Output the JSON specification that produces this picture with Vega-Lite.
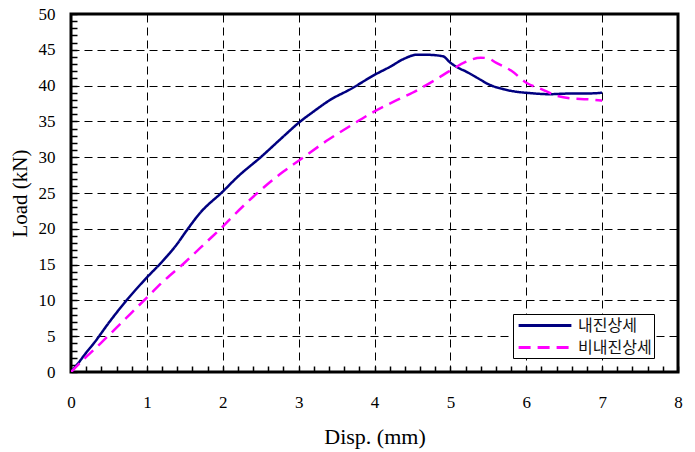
{
  "$schema": "https://vega.github.io/schema/vega-lite/v6.json",
  "width": 607,
  "height": 358,
  "autosize": {"type": "none"},
  "padding": {"left": 71, "top": 14, "right": 17, "bottom": 80},
  "background": "white",
  "config": {
    "view": {"stroke": "black", "strokeWidth": 3},
    "font": "Liberation Serif"
  },
  "data": {
    "values": [
      {"series": "내진상세", "disp": 0, "load": 0},
      {"series": "내진상세", "disp": 0.1, "load": 1.3},
      {"series": "내진상세", "disp": 0.2, "load": 2.7},
      {"series": "내진상세", "disp": 0.3, "load": 4.0},
      {"series": "내진상세", "disp": 0.5, "load": 6.9},
      {"series": "내진상세", "disp": 0.7, "load": 9.6},
      {"series": "내진상세", "disp": 1.0, "load": 13.2},
      {"series": "내진상세", "disp": 1.2, "load": 15.4},
      {"series": "내진상세", "disp": 1.4, "load": 17.9},
      {"series": "내진상세", "disp": 1.5, "load": 19.4},
      {"series": "내진상세", "disp": 1.7, "load": 22.2},
      {"series": "내진상세", "disp": 2.0, "load": 25.2},
      {"series": "내진상세", "disp": 2.2, "load": 27.3},
      {"series": "내진상세", "disp": 2.5, "load": 30.0},
      {"series": "내진상세", "disp": 2.8, "load": 32.9},
      {"series": "내진상세", "disp": 3.0, "load": 34.8},
      {"series": "내진상세", "disp": 3.2, "load": 36.4},
      {"series": "내진상세", "disp": 3.4, "load": 37.9},
      {"series": "내진상세", "disp": 3.7, "load": 39.6},
      {"series": "내진상세", "disp": 4.0, "load": 41.5},
      {"series": "내진상세", "disp": 4.2, "load": 42.6},
      {"series": "내진상세", "disp": 4.4, "load": 43.8},
      {"series": "내진상세", "disp": 4.55, "load": 44.3},
      {"series": "내진상세", "disp": 4.7, "load": 44.3},
      {"series": "내진상세", "disp": 4.9, "load": 44.1},
      {"series": "내진상세", "disp": 5.0, "load": 43.2},
      {"series": "내진상세", "disp": 5.1, "load": 42.5},
      {"series": "내진상세", "disp": 5.2, "load": 42.0},
      {"series": "내진상세", "disp": 5.4, "load": 40.8},
      {"series": "내진상세", "disp": 5.5, "load": 40.2},
      {"series": "내진상세", "disp": 5.7, "load": 39.5},
      {"series": "내진상세", "disp": 5.9, "load": 39.1},
      {"series": "내진상세", "disp": 6.0, "load": 39.0},
      {"series": "내진상세", "disp": 6.3, "load": 38.8},
      {"series": "내진상세", "disp": 6.6, "load": 38.9},
      {"series": "내진상세", "disp": 6.8, "load": 38.9},
      {"series": "내진상세", "disp": 7.0, "load": 39.0},
      {"series": "비내진상세", "disp": 0, "load": 0},
      {"series": "비내진상세", "disp": 0.2, "load": 2.1},
      {"series": "비내진상세", "disp": 0.4, "load": 4.1},
      {"series": "비내진상세", "disp": 0.6, "load": 6.2},
      {"series": "비내진상세", "disp": 0.8, "load": 8.3},
      {"series": "비내진상세", "disp": 1.0, "load": 10.4},
      {"series": "비내진상세", "disp": 1.2, "load": 12.5},
      {"series": "비내진상세", "disp": 1.5, "load": 15.3},
      {"series": "비내진상세", "disp": 1.8, "load": 18.3},
      {"series": "비내진상세", "disp": 2.0, "load": 20.3},
      {"series": "비내진상세", "disp": 2.1, "load": 21.4},
      {"series": "비내진상세", "disp": 2.5, "load": 25.4},
      {"series": "비내진상세", "disp": 2.8, "load": 28.0},
      {"series": "비내진상세", "disp": 3.0, "load": 29.5},
      {"series": "비내진상세", "disp": 3.4, "load": 32.5},
      {"series": "비내진상세", "disp": 3.7, "load": 34.5},
      {"series": "비내진상세", "disp": 4.0, "load": 36.4},
      {"series": "비내진상세", "disp": 4.3, "load": 38.0},
      {"series": "비내진상세", "disp": 4.5, "load": 39.0},
      {"series": "비내진상세", "disp": 4.8, "load": 40.8},
      {"series": "비내진상세", "disp": 5.0, "load": 42.1},
      {"series": "비내진상세", "disp": 5.2, "load": 43.3},
      {"series": "비내진상세", "disp": 5.4, "load": 43.9},
      {"series": "비내진상세", "disp": 5.5, "load": 43.8},
      {"series": "비내진상세", "disp": 5.6, "load": 43.2},
      {"series": "비내진상세", "disp": 5.8, "load": 42.1},
      {"series": "비내진상세", "disp": 6.0, "load": 40.4},
      {"series": "비내진상세", "disp": 6.2, "load": 39.5},
      {"series": "비내진상세", "disp": 6.4, "load": 38.6},
      {"series": "비내진상세", "disp": 6.6, "load": 38.2},
      {"series": "비내진상세", "disp": 6.8, "load": 38.1},
      {"series": "비내진상세", "disp": 7.0, "load": 37.9}
    ]
  },
  "mark": {"type": "line", "strokeWidth": 2.5, "interpolate": "monotone", "clip": true},
  "encoding": {
    "x": {
      "field": "disp", "type": "quantitative",
      "scale": {"domain": [0, 8], "nice": false, "zero": false},
      "axis": {
        "offset": -6,
        "title": "Disp. (mm)",
        "titleFont": "Liberation Serif", "titleFontSize": 22, "titleFontWeight": "normal", "titleColor": "black",
        "titleY": 77, "titleBaseline": "alphabetic",
        "values": [0,0.2,0.4,0.6,0.8,1,1.2,1.4,1.6,1.8,2,2.2,2.4,2.6,2.8,3,3.2,3.4,3.6,3.8,4,4.2,4.4,4.6,4.8,5,5.2,5.4,5.6,5.8,6,6.2,6.4,6.6,6.8,7,7.2,7.4,7.6,7.8,8],
        "labelExpr": "datum.value % 1 === 0 ? format(datum.value, 'd') : ''",
        "labelOverlap": false, "labelFlush": false,
        "labelFont": "Liberation Serif", "labelFontSize": 17, "labelColor": "black",
        "labelPadding": 22,
        "ticks": true, "tickSize": 6, "tickColor": "black", "tickWidth": 1.5,
        "domain": false,
        "grid": true, "gridColor": "black", "gridWidth": 1, "gridDash": [8, 5],
        "gridOpacity": {"condition": {"test": "datum.value % 1 === 0", "value": 1}, "value": 0}
      }
    },
    "y": {
      "field": "load", "type": "quantitative",
      "scale": {"domain": [0, 50], "nice": false},
      "axis": {
        "offset": -6,
        "title": "Load (kN)",
        "titleFont": "Liberation Serif", "titleFontSize": 21, "titleFontWeight": "normal", "titleColor": "black",
        "titleX": -51, "titleBaseline": "alphabetic", "titleAngle": -90,
        "values": [0,1,2,3,4,5,6,7,8,9,10,11,12,13,14,15,16,17,18,19,20,21,22,23,24,25,26,27,28,29,30,31,32,33,34,35,36,37,38,39,40,41,42,43,44,45,46,47,48,49,50],
        "labelExpr": "datum.value % 5 === 0 ? datum.label : ''",
        "labelOverlap": false, "labelFlush": false,
        "labelFont": "Liberation Serif", "labelFontSize": 17, "labelColor": "black",
        "labelPadding": 16,
        "ticks": true, "tickSize": 6, "tickColor": "black", "tickWidth": 1.5,
        "domain": false,
        "grid": true, "gridColor": "black", "gridWidth": 1, "gridDash": [8, 5],
        "gridOpacity": {"condition": {"test": "datum.value % 5 === 0", "value": 1}, "value": 0}
      }
    },
    "color": {
      "field": "series", "type": "nominal", "title": null,
      "scale": {"domain": ["내진상세", "비내진상세"], "range": ["#000080", "#FF00FF"]},
      "legend": {
        "orient": "none", "legendX": 442, "legendY": 300,
        "fillColor": "white", "strokeColor": "black",
        "padding": 2, "rowPadding": 4,
        "symbolType": "M-3.3,0H3.3", "symbolSize": 256, "symbolStrokeWidth": 3,
        "symbolOffset": 20.5, "labelOffset": 23.5,
        "labelFont": "Noto Sans CJK KR", "labelFontSize": 16, "labelColor": "#111111"
      }
    },
    "strokeDash": {
      "field": "series", "type": "nominal", "title": null,
      "scale": {"domain": ["내진상세", "비내진상세"], "range": [[1, 0], [12, 7]]}
    }
  }
}
